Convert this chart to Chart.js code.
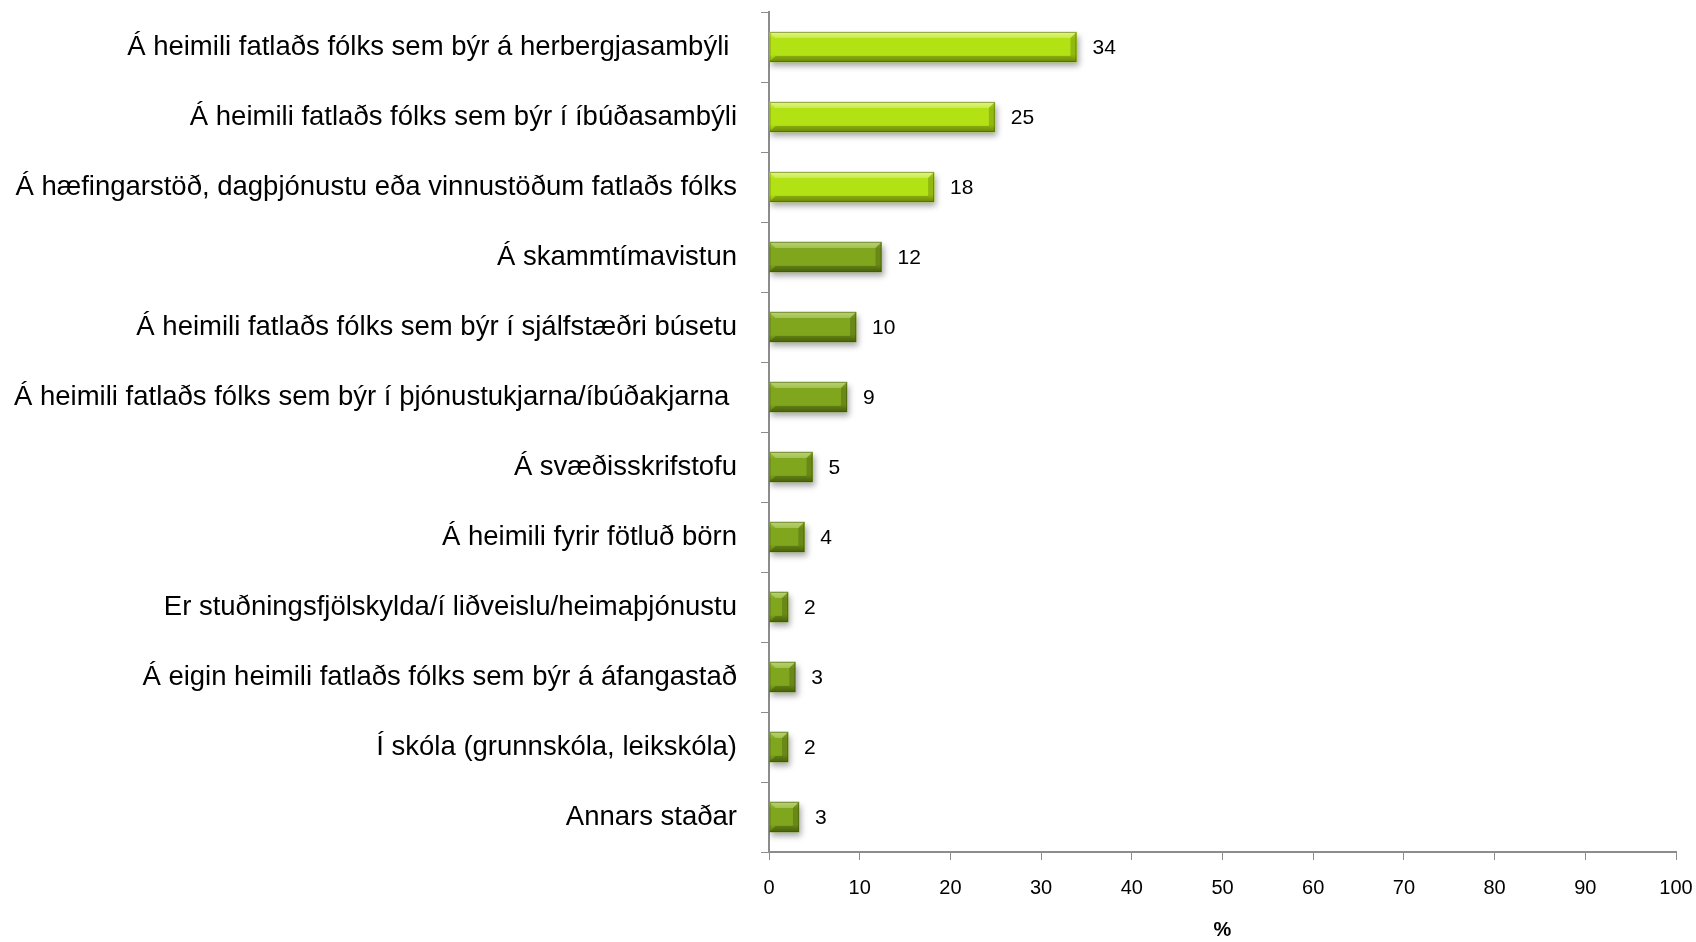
<!DOCTYPE html>
<html>
<head>
<meta charset="utf-8">
<script src="https://cdn.jsdelivr.net/npm/chart.js@4/dist/chart.umd.min.js"></script>
<style>
    html, body { margin: 0; padding: 0; background: #fff; }
    #wrap { width: 1696px; height: 942px; }
</style>
</head>
<body>
<div id="wrap"><canvas id="chart" width="1696" height="942"></canvas></div>
<script>
// Categories, top to bottom
const categories = [
    'Á heimili fatlaðs fólks sem býr á herbergjasambýli ',
    'Á heimili fatlaðs fólks sem býr í íbúðasambýli',
    'Á hæfingarstöð, dagþjónustu eða vinnustöðum fatlaðs fólks',
    'Á skammtímavistun',
    'Á heimili fatlaðs fólks sem býr í sjálfstæðri búsetu',
    'Á heimili fatlaðs fólks sem býr í þjónustukjarna/íbúðakjarna ',
    'Á svæðisskrifstofu',
    'Á heimili fyrir fötluð börn',
    'Er stuðningsfjölskylda/í liðveislu/heimaþjónustu',
    'Á eigin heimili fatlaðs fólks sem býr á áfangastað',
    'Í skóla (grunnskóla, leikskóla)',
    'Annars staðar'
];

// Percent values (labels show rounded numbers)
const values = [33.9, 24.9, 18.2, 12.4, 9.6, 8.6, 4.8, 3.9, 2.1, 2.9, 2.1, 3.3];

// Which bars are drawn in the bright green
const highlighted = [true, true, true, false, false, false, false, false, false, false, false, false];

const xTicks = [0, 10, 20, 30, 40, 50, 60, 70, 80, 90, 100];
const xTitle = '%';

const BRIGHT = { base: '#b3e214', light: '#d8f550', dark: '#86ab0c' };
const OLIVE = { base: '#80a61e', light: '#a2c83a', dark: '#5a7a0e' };

// Drop shadow under the bars
const shadowPlugin = {
    id: 'barShadow',
    beforeDatasetDraw(chart) {
        const ctx = chart.ctx;
        ctx.save();
        ctx.shadowColor = 'rgba(0, 0, 0, 0.35)';
        ctx.shadowBlur = 6;
        ctx.shadowOffsetX = 2;
        ctx.shadowOffsetY = 4;
    },
    afterDatasetDraw(chart) {
        chart.ctx.restore();
    }
};

// Bevel look + value labels
const bevelPlugin = {
    id: 'bevel',
    afterDatasetsDraw(chart) {
        const ctx = chart.ctx;
        const meta = chart.getDatasetMeta(0);
        meta.data.forEach((bar, i) => {
            const pal = highlighted[i] ? BRIGHT : OLIVE;
            const left = Math.min(bar.base, bar.x);
            const right = Math.max(bar.base, bar.x);
            const top = bar.y - bar.height / 2;
            const h = bar.height;
            const w = right - left;

            ctx.save();
            const g = ctx.createLinearGradient(0, top, 0, top + h);
            g.addColorStop(0, pal.light);
            g.addColorStop(0.22, pal.base);
            g.addColorStop(0.75, pal.base);
            g.addColorStop(1, pal.dark);
            ctx.fillStyle = g;
            ctx.fillRect(left, top, w, h);

            // bevel edges
            const b = Math.min(6, w / 3);
            ctx.fillStyle = 'rgba(255, 255, 255, 0.25)';
            ctx.beginPath();
            ctx.moveTo(left, top);
            ctx.lineTo(right, top);
            ctx.lineTo(right - b, top + b);
            ctx.lineTo(left + b, top + b);
            ctx.closePath();
            ctx.fill();
            ctx.fillStyle = 'rgba(0, 0, 0, 0.18)';
            ctx.beginPath();
            ctx.moveTo(right, top);
            ctx.lineTo(right, top + h);
            ctx.lineTo(right - b, top + h - b);
            ctx.lineTo(right - b, top + b);
            ctx.closePath();
            ctx.fill();
            ctx.fillStyle = 'rgba(0, 0, 0, 0.2)';
            ctx.beginPath();
            ctx.moveTo(left, top + h);
            ctx.lineTo(right, top + h);
            ctx.lineTo(right - b, top + h - b);
            ctx.lineTo(left + b, top + h - b);
            ctx.closePath();
            ctx.fill();
            ctx.strokeStyle = 'rgba(60, 80, 0, 0.45)';
            ctx.lineWidth = 1;
            ctx.strokeRect(left + 0.5, top + 0.5, w - 1, h - 1);

            // value label
            ctx.fillStyle = '#000';
            ctx.font = '21px "Liberation Sans", sans-serif';
            ctx.textAlign = 'left';
            ctx.textBaseline = 'middle';
            ctx.fillText(String(Math.round(values[i])), right + 16, bar.y + 1);
            ctx.restore();
        });
    }
};

new Chart(document.getElementById('chart'), {
    type: 'bar',
    data: {
        labels: categories,
        datasets: [{
            data: values,
            backgroundColor: values.map((v, i) => highlighted[i] ? BRIGHT.base : OLIVE.base),
            borderWidth: 0,
            barThickness: 30
        }]
    },
    options: {
        indexAxis: 'y',
        responsive: false,
        animation: false,
        layout: {
            padding: { top: 12, right: 20, left: 0, bottom: 0 }
        },
        plugins: {
            legend: { display: false },
            tooltip: { enabled: false }
        },
        scales: {
            x: {
                min: 0,
                max: 100,
                afterBuildTicks(scale) {
                    scale.ticks = xTicks.map(v => ({ value: v }));
                },
                afterFit(scale) {
                    scale.height = 90;
                    scale.paddingLeft = 0;
                    scale.paddingRight = 0;
                },
                grid: {
                    drawOnChartArea: false,
                    color: '#8c8c8c',
                    tickLength: 8
                },
                border: { color: '#8c8c8c', width: 2 },
                ticks: {
                    color: '#000',
                    padding: 16,
                    maxRotation: 0,
                    font: { family: '"Liberation Sans", sans-serif', size: 20 }
                },
                title: {
                    display: true,
                    text: xTitle,
                    color: '#000',
                    padding: { top: 0, bottom: 0 },
                    font: { family: '"Liberation Sans", sans-serif', size: 20, weight: 'bold' }
                }
            },
            y: {
                afterFit(scale) {
                    scale.width = 769;
                    scale.paddingTop = 0;
                    scale.paddingBottom = 0;
                },
                grid: {
                    drawOnChartArea: false,
                    offset: true,
                    color: '#8c8c8c',
                    tickLength: 8
                },
                border: { color: '#8c8c8c', width: 2 },
                ticks: {
                    color: '#000',
                    padding: 24,
                    autoSkip: false,
                    font: { family: '"Liberation Sans", sans-serif', size: 27.5 }
                }
            }
        }
    },
    plugins: [shadowPlugin, bevelPlugin]
});
</script>
</body>
</html>
